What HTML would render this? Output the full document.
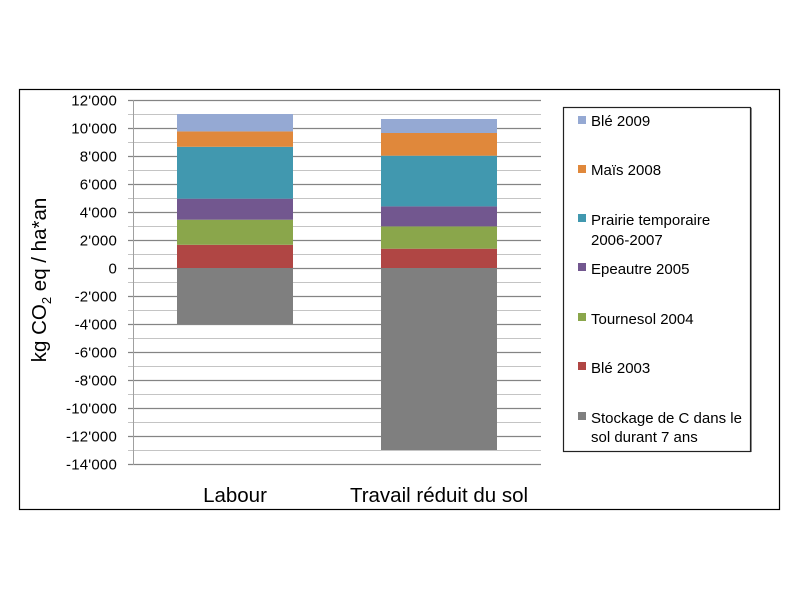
<!DOCTYPE html>
<html><head><meta charset="utf-8"><style>
html,body{margin:0;padding:0;background:#fff;}
svg{display:block;}
text{font-family:"Liberation Sans",sans-serif;fill:#000;}
</style></head><body>
<svg width="800" height="600" viewBox="0 0 800 600" xmlns="http://www.w3.org/2000/svg">
<rect x="0" y="0" width="800" height="600" fill="#fff"/>
<rect x="19.5" y="89.5" width="760" height="420" fill="#fff" stroke="#000" stroke-width="1.2"/>
<!-- minor gridlines -->
<g stroke="#c4c4c4" stroke-width="1">
<line x1="128" y1="114.5" x2="541" y2="114.5"/>
<line x1="128" y1="142.5" x2="541" y2="142.5"/>
<line x1="128" y1="170.5" x2="541" y2="170.5"/>
<line x1="128" y1="198.5" x2="541" y2="198.5"/>
<line x1="128" y1="226.5" x2="541" y2="226.5"/>
<line x1="128" y1="254.5" x2="541" y2="254.5"/>
<line x1="128" y1="282.5" x2="541" y2="282.5"/>
<line x1="128" y1="310.5" x2="541" y2="310.5"/>
<line x1="128" y1="338.5" x2="541" y2="338.5"/>
<line x1="128" y1="366.5" x2="541" y2="366.5"/>
<line x1="128" y1="394.5" x2="541" y2="394.5"/>
<line x1="128" y1="422.5" x2="541" y2="422.5"/>
<line x1="128" y1="450.5" x2="541" y2="450.5"/>
</g>
<!-- major gridlines -->
<g stroke="#848484" stroke-width="1.2">
<line x1="128" y1="100.5" x2="541" y2="100.5"/>
<line x1="128" y1="128.5" x2="541" y2="128.5"/>
<line x1="128" y1="156.5" x2="541" y2="156.5"/>
<line x1="128" y1="184.5" x2="541" y2="184.5"/>
<line x1="128" y1="212.5" x2="541" y2="212.5"/>
<line x1="128" y1="240.5" x2="541" y2="240.5"/>
<line x1="128" y1="268.5" x2="541" y2="268.5"/>
<line x1="128" y1="296.5" x2="541" y2="296.5"/>
<line x1="128" y1="324.5" x2="541" y2="324.5"/>
<line x1="128" y1="352.5" x2="541" y2="352.5"/>
<line x1="128" y1="380.5" x2="541" y2="380.5"/>
<line x1="128" y1="408.5" x2="541" y2="408.5"/>
<line x1="128" y1="436.5" x2="541" y2="436.5"/>
<line x1="128" y1="464.5" x2="541" y2="464.5"/>
</g>
<line x1="133.5" y1="100" x2="133.5" y2="465" stroke="#a0a0a0" stroke-width="1"/>
<!-- Bar 1 Labour -->
<g>
<rect x="177" y="268" width="116" height="56" fill="#7f7f7f"/>
<rect x="177" y="244.8" width="116" height="23.2" fill="#b04644"/>
<rect x="177" y="219.7" width="116" height="25.1" fill="#8aa64b"/>
<rect x="177" y="198.7" width="116" height="21" fill="#72578f"/>
<rect x="177" y="146.8" width="116" height="51.9" fill="#4198af"/>
<rect x="177" y="131.4" width="116" height="15.4" fill="#e0883b"/>
<rect x="177" y="114" width="116" height="17.4" fill="#95a9d3"/>
</g>
<!-- Bar 2 -->
<g>
<rect x="381" y="268" width="116" height="182" fill="#7f7f7f"/>
<rect x="381" y="248.7" width="116" height="19.3" fill="#b04644"/>
<rect x="381" y="226.4" width="116" height="22.3" fill="#8aa64b"/>
<rect x="381" y="206.4" width="116" height="20" fill="#72578f"/>
<rect x="381" y="155.7" width="116" height="50.7" fill="#4198af"/>
<rect x="381" y="133" width="116" height="22.7" fill="#e0883b"/>
<rect x="381" y="119" width="116" height="14" fill="#95a9d3"/>
</g>
<!-- Y tick labels -->
<g font-size="15" text-anchor="end" letter-spacing="0.2">
<text x="117" y="105.5">12'000</text>
<text x="117" y="133.5">10'000</text>
<text x="117" y="161.5">8'000</text>
<text x="117" y="189.5">6'000</text>
<text x="117" y="217.5">4'000</text>
<text x="117" y="245.5">2'000</text>
<text x="117" y="273.5">0</text>
<text x="117" y="301.5">-2'000</text>
<text x="117" y="329.5">-4'000</text>
<text x="117" y="357.5">-6'000</text>
<text x="117" y="385.5">-8'000</text>
<text x="117" y="413.5">-10'000</text>
<text x="117" y="441.5">-12'000</text>
<text x="117" y="469.5">-14'000</text>
</g>
<!-- Y axis title -->
<text transform="translate(46,280) rotate(-90)" font-size="20.5" text-anchor="middle">kg CO<tspan font-size="13" dy="5">2</tspan><tspan dy="-5"> eq / ha*an</tspan></text>
<!-- Category labels -->
<text x="235" y="502" font-size="20.5" text-anchor="middle">Labour</text>
<text x="439" y="502" font-size="20.5" text-anchor="middle">Travail réduit du sol</text>
<!-- Legend -->
<rect x="563.5" y="107.5" width="187" height="344" fill="#fff" stroke="#222" stroke-width="1.2"/>
<line x1="751.5" y1="108" x2="751.5" y2="452" stroke="#888" stroke-width="1"/>
<g font-size="15">
<rect x="578" y="116" width="8" height="8" fill="#95a9d3"/>
<text x="591" y="126">Blé 2009</text>
<rect x="578" y="165" width="8" height="8" fill="#e0883b"/>
<text x="591" y="175">Maïs 2008</text>
<rect x="578" y="214" width="8" height="8" fill="#4198af"/>
<text x="591" y="225">Prairie temporaire</text>
<text x="591" y="245">2006-2007</text>
<rect x="578" y="263" width="8" height="8" fill="#72578f"/>
<text x="591" y="274">Epeautre 2005</text>
<rect x="578" y="313" width="8" height="8" fill="#8aa64b"/>
<text x="591" y="324">Tournesol 2004</text>
<rect x="578" y="362" width="8" height="8" fill="#b04644"/>
<text x="591" y="373">Blé 2003</text>
<rect x="578" y="412" width="8" height="8" fill="#7f7f7f"/>
<text x="591" y="423">Stockage de C dans le</text>
<text x="591" y="442">sol durant 7 ans</text>
</g>
</svg>
</body></html>
